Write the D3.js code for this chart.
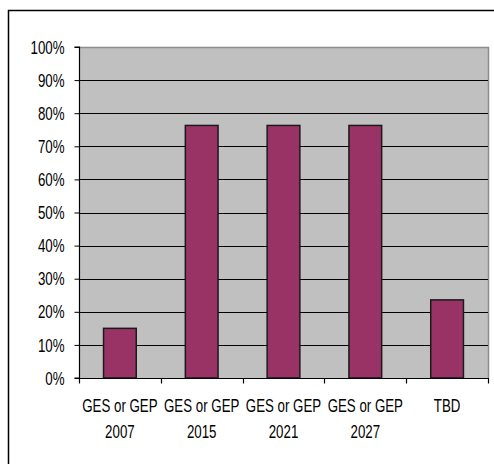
<!DOCTYPE html>
<html><head><meta charset="utf-8">
<script src="https://cdn.jsdelivr.net/npm/d3@7"></script>
<style>
html,body{margin:0;padding:0;background:#fff;}
svg{display:block;}
text{font-family:"Liberation Sans",Arial,sans-serif;font-size:17.5px;fill:#000;}
</style></head>
<body>
<svg id="c" width="494" height="464"></svg>
<script>
const categories = [["GES or GEP","2007"],["GES or GEP","2015"],["GES or GEP","2021"],["GES or GEP","2027"],["TBD"]];
const values = [15, 76.3, 76.3, 76.3, 23.6];
const yTicks = [0,10,20,30,40,50,60,70,80,90,100];

const svg = d3.select("#c");
const L = 79, R = 488, T = 47, B = 378;
const SQUEEZE = 0.76;

// outer border
svg.append("path").attr("d","M8.5,464 L8.5,10.5 L494,10.5").attr("fill","none").attr("stroke","#000").attr("stroke-width",1.5);

const x = d3.scaleBand().domain(d3.range(categories.length)).range([L, R]).padding(0);
const y = d3.scaleLinear().domain([0,100]).range([B, T]);

// plot background
svg.append("rect").attr("x",L).attr("y",T).attr("width",R-L).attr("height",B-T).attr("fill","#c0c0c0");
svg.append("path").attr("d",`M${L},${T+0.5} L${R+0.5},${T+0.5} L${R+0.5},${B}`).attr("fill","none").attr("stroke","#8c8c8c").attr("stroke-width",1.5);

// gridlines
svg.append("g").selectAll("line").data(yTicks.filter(d=>d>0 && d<100)).join("line")
  .attr("x1",L).attr("x2",R).attr("y1",d=>Math.round(y(d))+0.5).attr("y2",d=>Math.round(y(d))+0.5)
  .attr("stroke","#000").attr("stroke-width",1.2);

// bars
const bw = x.bandwidth()*0.4;
svg.append("g").selectAll("rect").data(values).join("rect")
  .attr("x",(d,i)=>x(i)+x.bandwidth()/2-bw/2)
  .attr("y",d=>y(d))
  .attr("width",bw)
  .attr("height",d=>B-y(d))
  .attr("fill","#993366").attr("stroke","#1a1a1a").attr("stroke-width",1.5);

// y axis
const yAxis = d3.axisLeft(y).tickValues(yTicks).tickFormat(d=>d+"%").tickSize(5).tickPadding(10);
const gy = svg.append("g").attr("transform",`translate(${L+0.5},0)`).call(yAxis);
gy.select(".domain").attr("stroke","#000").attr("d",`M-5,${T}H0V${B}H-5`).attr("stroke-width",1.2);
gy.selectAll(".tick line").attr("stroke","#000");
gy.selectAll("text")
  .attr("font-size",17.5).attr("font-family",null).attr("dy","0.35em")
  .attr("x",-15/SQUEEZE)
  .attr("transform",`scale(${SQUEEZE},1)`);

// x axis
const xb = d3.scaleLinear().domain([0,categories.length]).range([L,R]);
const gx = svg.append("g").attr("transform",`translate(0,${B+0.5})`);
gx.append("line").attr("x1",L).attr("x2",R+1).attr("stroke","#000").attr("stroke-width",1.2);
gx.selectAll(".tk").data(d3.range(categories.length+1)).join("line").attr("class","tk")
  .attr("x1",d=>Math.round(xb(d))+0.5).attr("x2",d=>Math.round(xb(d))+0.5).attr("y1",0).attr("y2",5)
  .attr("stroke","#000").attr("stroke-width",1.2);
const lab = svg.append("g").selectAll("text").data(categories).join("text")
  .attr("text-anchor","middle")
  .attr("transform",(d,i)=>`translate(${x(i)+x.bandwidth()/2},412) scale(${SQUEEZE},1)`);
lab.selectAll("tspan").data(d=>d).join("tspan")
  .attr("x",0)
  .attr("dy",(d,i)=>i===0?0:26)
  .text(d=>d);
</script>
</body></html>
